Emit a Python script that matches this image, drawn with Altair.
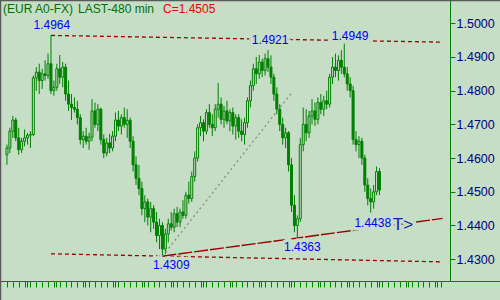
import altair as alt
import pandas as pd

# ---------------- data (EUR A0-FX, 480-min bars) ----------------
bar_index = list(range(128))
open_p = [1.4610,1.4630,1.4680,1.4713,1.4660,1.4625,1.4650,1.4660,1.4668,1.4670,
          1.4838,1.4855,1.4830,1.4850,1.4845,1.4880,1.4800,1.4810,1.4865,1.4840,
          1.4870,1.4790,1.4760,1.4750,1.4745,1.4720,1.4655,1.4665,1.4650,1.4662,
          1.4740,1.4700,1.4745,1.4655,1.4615,1.4645,1.4630,1.4665,1.4713,1.4695,
          1.4720,1.4700,1.4712,1.4650,1.4580,1.4540,1.4510,1.4450,1.4470,1.4425,
          1.4450,1.4410,1.4370,1.4400,1.4330,1.4375,1.4405,1.4395,1.4435,1.4410,
          1.4440,1.4430,1.4490,1.4480,1.4545,1.4600,1.4690,1.4705,1.4680,1.4735,
          1.4700,1.4690,1.4745,1.4760,1.4715,1.4740,1.4710,1.4735,1.4695,1.4720,
          1.4680,1.4670,1.4705,1.4770,1.4815,1.4865,1.4850,1.4885,1.4860,1.4895,
          1.4870,1.4840,1.4790,1.4745,1.4700,1.4660,1.4675,1.4580,1.4460,1.4400,
          1.4420,1.4640,1.4700,1.4675,1.4725,1.4740,1.4715,1.4765,1.4745,1.4770,
          1.4760,1.4840,1.4870,1.4860,1.4890,1.4870,1.4850,1.4820,1.4800,1.4655,
          1.4640,1.4650,1.4600,1.4520,1.4480,1.4470,1.4500,1.4560]
high_p = [1.4640,1.4690,1.4725,1.4720,1.4690,1.4660,1.4685,1.4675,1.4680,1.4845,
          1.4870,1.4880,1.4865,1.4890,1.4910,1.4964,1.4830,1.4880,1.4906,1.4885,
          1.4880,1.4830,1.4790,1.4780,1.4770,1.4730,1.4680,1.4690,1.4675,1.4775,
          1.4765,1.4760,1.4750,1.4670,1.4660,1.4672,1.4680,1.4735,1.4740,1.4730,
          1.4750,1.4745,1.4720,1.4665,1.4605,1.4580,1.4530,1.4490,1.4480,1.4470,
          1.4460,1.4440,1.4420,1.4410,1.4390,1.4420,1.4440,1.4450,1.4455,1.4450,
          1.4475,1.4500,1.4530,1.4560,1.4620,1.4700,1.4725,1.4715,1.4745,1.4760,
          1.4730,1.4760,1.4823,1.4780,1.4755,1.4770,1.4745,1.4750,1.4730,1.4730,
          1.4715,1.4720,1.4780,1.4830,1.4880,1.4900,1.4906,1.4895,1.4910,1.4921,
          1.4905,1.4850,1.4810,1.4760,1.4720,1.4690,1.4680,1.4600,1.4490,1.4430,
          1.4660,1.4750,1.4745,1.4740,1.4775,1.4765,1.4780,1.4790,1.4785,1.4800,
          1.4850,1.4900,1.4910,1.4905,1.4920,1.4949,1.4870,1.4840,1.4815,1.4680,
          1.4665,1.4660,1.4610,1.4540,1.4510,1.4520,1.4575,1.4570]
low_p = [1.4580,1.4615,1.4660,1.4650,1.4610,1.4615,1.4635,1.4640,1.4630,1.4665,
         1.4800,1.4790,1.4805,1.4830,1.4835,1.4790,1.4785,1.4800,1.4820,1.4810,
         1.4770,1.4740,1.4713,1.4735,1.4700,1.4640,1.4630,1.4640,1.4625,1.4650,
         1.4690,1.4680,1.4640,1.4600,1.4605,1.4615,1.4620,1.4650,1.4680,1.4670,
         1.4690,1.4660,1.4630,1.4560,1.4520,1.4490,1.4430,1.4410,1.4400,1.4380,
         1.4390,1.4350,1.4330,1.4309,1.4315,1.4350,1.4385,1.4380,1.4395,1.4395,
         1.4420,1.4420,1.4465,1.4470,1.4530,1.4590,1.4665,1.4650,1.4670,1.4690,
         1.4665,1.4680,1.4720,1.4700,1.4690,1.4700,1.4680,1.4670,1.4655,1.4660,
         1.4650,1.4640,1.4690,1.4750,1.4800,1.4820,1.4835,1.4840,1.4845,1.4855,
         1.4820,1.4770,1.4730,1.4680,1.4640,1.4630,1.4560,1.4440,1.4380,1.4363,
         1.4410,1.4620,1.4650,1.4660,1.4700,1.4695,1.4700,1.4730,1.4725,1.4745,
         1.4750,1.4820,1.4840,1.4830,1.4850,1.4840,1.4800,1.4780,1.4640,1.4620,
         1.4600,1.4580,1.4500,1.4460,1.4438,1.4450,1.4490,1.4490]
close_p = [1.4630,1.4680,1.4713,1.4660,1.4625,1.4650,1.4660,1.4668,1.4670,1.4838,
           1.4855,1.4830,1.4850,1.4845,1.4880,1.4800,1.4810,1.4865,1.4840,1.4870,
           1.4790,1.4760,1.4750,1.4745,1.4720,1.4655,1.4665,1.4650,1.4662,1.4740,
           1.4700,1.4745,1.4655,1.4615,1.4645,1.4630,1.4665,1.4713,1.4695,1.4720,
           1.4700,1.4712,1.4650,1.4580,1.4540,1.4510,1.4450,1.4470,1.4425,1.4450,
           1.4410,1.4370,1.4400,1.4330,1.4375,1.4405,1.4395,1.4435,1.4410,1.4440,
           1.4430,1.4490,1.4480,1.4545,1.4600,1.4690,1.4705,1.4680,1.4735,1.4700,
           1.4690,1.4745,1.4760,1.4715,1.4740,1.4710,1.4735,1.4695,1.4720,1.4680,
           1.4670,1.4705,1.4770,1.4815,1.4865,1.4850,1.4885,1.4860,1.4895,1.4870,
           1.4840,1.4790,1.4745,1.4700,1.4660,1.4675,1.4580,1.4460,1.4400,1.4420,
           1.4640,1.4700,1.4675,1.4725,1.4740,1.4715,1.4765,1.4745,1.4770,1.4760,
           1.4840,1.4870,1.4860,1.4890,1.4870,1.4850,1.4820,1.4800,1.4655,1.4640,
           1.4650,1.4600,1.4520,1.4480,1.4470,1.4500,1.4560,1.4505]

# trend / channel lines (bar index, price)
resist_x = [15, 148.5]
resist_y = [1.4964, 1.4944]
support_x = [15, 148.5]
support_y = [1.4316, 1.4292]
trend_x = [53, 148.5]
trend_y = [1.4309, 1.4421]
gray_x = [53, 97]
gray_y = [1.4309, 1.4793]

# annotations
label_text = ["1.4964", "1.4921", "1.4949", "1.4309", "1.4363", "1.4438"]
label_x = [15.3, 89.7, 117.0, 56.0, 100.7, 124.7]
label_y = [1.4995, 1.4950, 1.4962, 1.4283, 1.4337, 1.4408]
arrow_text = ["T>"]
arrow_x = [135.0]
arrow_y = [1.4402]

y_ticks = [1.43, 1.44, 1.45, 1.46, 1.47, 1.48, 1.49, 1.50]

# ---------------- styling ----------------
BG = "#C6DDC6"
GREEN = "#008000"
DRED = "#990000"
FONT = "Liberation Sans"

df = pd.DataFrame({"x": bar_index, "o": open_p, "h": high_p, "l": low_p, "c": close_p})
df["up"] = df["c"] >= df["o"]

xs = alt.Scale(domain=[-0.667, 149.333], nice=False, zero=False)
ys = alt.Scale(domain=[1.42353, 1.50691], nice=False, zero=False)

x_tick_vals = [2 * k for k in range(75)] + [2 * k + 0.67 for k in range(3, 75, 5)]

x_axis = alt.Axis(values=x_tick_vals, labels=False, title=None, grid=False,
                  domainColor=GREEN, tickColor=GREEN, tickSize=6, tickWidth=1,
                  domainWidth=1)
y_axis = alt.Axis(orient="right", values=y_ticks, format=".4f", title=None, grid=False,
                  labelColor="#000080", labelFontSize=12.5, labelFont=FONT,
                  tickColor=GREEN, domainColor=GREEN, tickSize=5, labelPadding=1,
                  domainWidth=1, tickWidth=1)


def X(field):
    return alt.X(field, type="quantitative", scale=xs, axis=x_axis)


def Y(field):
    return alt.Y(field, type="quantitative", scale=ys, axis=y_axis)


wicks = alt.Chart(df).mark_rule(color=GREEN, strokeWidth=1).encode(
    x=X("x"), y=Y("l"), y2="h")

bodies = alt.Chart(df).mark_bar(size=2, stroke=GREEN, strokeWidth=1).encode(
    x=X("x"), y=Y("o"), y2="c",
    fill=alt.condition("datum.up", alt.value(BG), alt.value(GREEN)))


def line_layer(xv, yv, color, dash, width):
    d = pd.DataFrame({"x": xv, "y": yv})
    return alt.Chart(d).mark_line(color=color, strokeDash=dash, strokeWidth=width).encode(
        x=X("x"), y=Y("y"))


resist = line_layer(resist_x, resist_y, DRED, [4, 3], 1.3)
support = line_layer(support_x, support_y, DRED, [4, 3], 1.3)
trend = line_layer(trend_x, trend_y, DRED, [14, 2], 1.4)
grayl = line_layer(gray_x, gray_y, "#8A8A8A", [2, 3], 1.3)


def text_parts(xv, yv, tv, size, color, halo_w):
    d = pd.DataFrame({"x": xv, "y": yv, "t": tv})
    base = alt.Chart(d).encode(x=X("x"), y=Y("y"), text="t:N")
    halo = base.mark_text(font=FONT, fontSize=size, color=BG, stroke=BG,
                          strokeWidth=halo_w, align="center", baseline="middle")
    front = base.mark_text(font=FONT, fontSize=size, color=color,
                           align="center", baseline="middle")
    return halo, front


lab_halo, lab_front = text_parts(label_x, label_y, label_text, 12, "#0000F0", 7)
t_halo, t_front = text_parts(arrow_x, arrow_y, arrow_text, 17, "#2020B0", 5)

hdr_df = pd.DataFrame({"t": ["(EUR A0-FX)", "LAST-480 min", "C=1.4505"],
                       "px": [3, 78, 163], "col": ["#007000", "#007000", "#EE0000"]})
header = alt.Chart(hdr_df).mark_text(font=FONT, fontSize=12, align="left",
                                     baseline="middle").encode(
    x=alt.X("px:Q", scale=None), y=alt.value(9), text="t:N",
    color=alt.Color("col:N", scale=None))

one = pd.DataFrame({"a": [0]})
top_border = alt.Chart(one).mark_rule(color="#5A5A5A", strokeWidth=1.5).encode(
    x=alt.value(0), x2=alt.value(500), y=alt.value(0.5))
left_border = alt.Chart(one).mark_rule(color="#5A5A5A", strokeWidth=1.5).encode(
    x=alt.value(0.5), y=alt.value(0), y2=alt.value(300))
bottom_ext = alt.Chart(one).mark_rule(color=GREEN, strokeWidth=1).encode(
    x=alt.value(0), x2=alt.value(500), y=alt.value(281.5))

chart = alt.layer(
    wicks, bodies, resist, support, trend, grayl,
    lab_halo, t_halo, lab_front, t_front, header,
    bottom_ext, top_border, left_border
).properties(
    width=450, height=281,
    autosize=alt.AutoSizeParams(type="none"),
    padding={"left": 0, "top": 0, "right": 50, "bottom": 19},
    background=BG,
).configure_view(strokeWidth=0)

chart.save("out.html", embed_options={"renderer": "svg", "actions": False})
